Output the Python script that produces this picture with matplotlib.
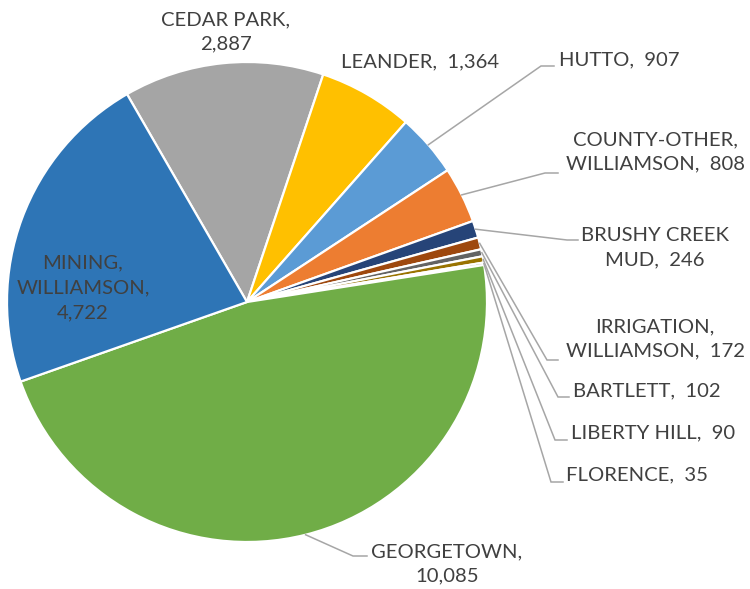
import numpy as np
import matplotlib.pyplot as plt

plt.rcParams['font.family'] = ['Lato', 'DejaVu Sans']

# data (clockwise from the Mining / Cedar Park border)
names = ['CEDAR PARK', 'LEANDER', 'HUTTO', 'COUNTY-OTHER,\nWILLIAMSON', 'BRUSHY CREEK\nMUD',
         'IRRIGATION,\nWILLIAMSON', 'BARTLETT', 'LIBERTY HILL', 'FLORENCE', 'GEORGETOWN', 'MINING,\nWILLIAMSON']
values = [2887, 1364, 907, 808, 246, 172, 102, 90, 35, 10085, 4722]
colors = ['#A5A5A5', '#FFC000', '#5B9BD5', '#ED7D31', '#264478', '#9E480E',
          '#636363', '#997300', '#43682B', '#70AD47', '#2E75B6']
label_fmt = ['{},\n{}', '{},  {}', '{},  {}', '{},  {}', '{},  {}', '{},  {}',
             '{},  {}', '{},  {}', '{},  {}', '{},\n{}', '{},\n{}']

W, H = 750, 589


def px(x, y):
    # pixel position (from top-left) -> axes data coords
    return x, H - y


# label layout: text centre, leader elbow, leader end (pixels); None = no leader
layout = [
    ((226, 32), None, None),
    ((420, 62), None, None),
    ((619, 60), (541, 66), (554, 66)),
    ((656, 152), (545, 173), (558, 173)),
    ((655, 248), (567, 240), (578, 240)),
    ((655, 339), (547, 360), (558, 360)),
    ((647, 391), (558, 397), (569, 397)),
    ((653, 433), (555, 440), (567, 440)),
    ((637, 475), (551, 482), (563, 482)),
    ((447, 564), (353, 556), (367, 556)),
    ((83, 288), None, None),
]

fig = plt.figure(figsize=(W / 100, H / 100), dpi=100)
ax = fig.add_axes([0, 0, 1, 1])

cx, cy = px(247, 302)
R = 240
wedges, _ = ax.pie(values, colors=colors, startangle=120, counterclock=False,
                   center=(cx, cy), radius=R, frame=True,
                   wedgeprops=dict(edgecolor='white', linewidth=1.6))
ax.set_xlim(0, W)
ax.set_ylim(0, H)
ax.set_aspect('equal')
ax.axis('off')

for i, w in enumerate(wedges):
    txt = label_fmt[i].format(names[i], f'{values[i]:,}')
    (tx, ty), elbow, end = layout[i]
    ax.text(*px(tx, ty), txt, ha='center', va='center', fontsize=14.6,
            color='#404040', linespacing=1.55)
    if elbow is not None:
        mid = np.deg2rad((w.theta1 + w.theta2) / 2)
        sx, sy = cx + R * np.cos(mid), cy + R * np.sin(mid)
        ex, ey = px(*elbow)
        fx, fy = px(*end)
        ax.plot([sx, ex, fx], [sy, ey, fy], color='#A6A6A6', lw=1.1,
                solid_joinstyle='miter')

plt.savefig('out.png', dpi=100)
